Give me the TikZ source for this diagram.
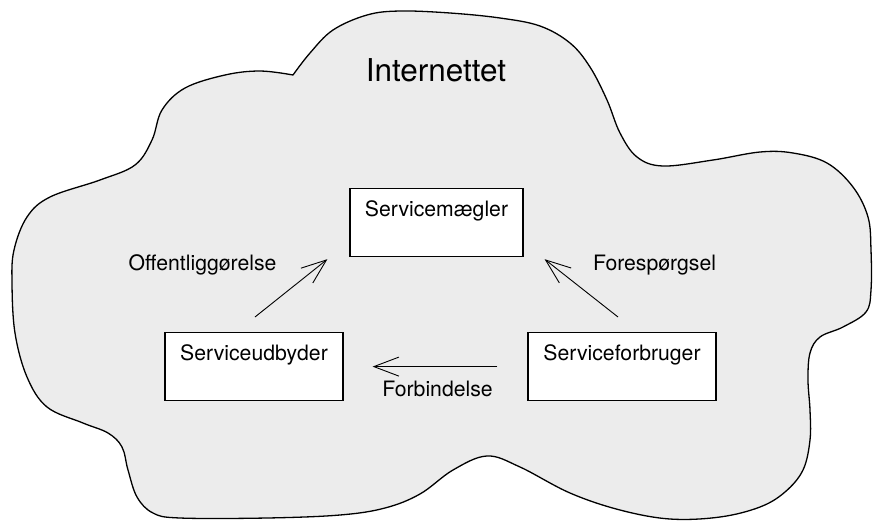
\documentclass[tikz,border=0pt]{standalone}
\usepackage{fontspec}
\setmainfont{TeX Gyre Heros}
\usetikzlibrary{arrows.meta,calc}
\definecolor{cloudfill}{RGB}{236,236,236}
\tikzset{
  svcbox/.style={draw, line width=1.2pt, fill=white, rectangle, inner sep=0pt,
    anchor=north, text height=28pt, text depth=40pt,
    font=\fontsize{21.2}{25}\selectfont},
  lbl/.style={anchor=base, inner sep=0pt, font=\fontsize{21.2}{25}\selectfont},
  flow/.style={line width=0.9pt, -{Straight Barb[length=25pt, width=19pt, line width=0.9pt]}}
}
\begin{document}
\begin{tikzpicture}[x=1pt, y=-1pt]
\useasboundingbox (0,0) rectangle (873,520);

% the cloud
\draw[line width=1.3pt, fill=cloudfill, line join=round]
  plot[smooth, tension=0.6] coordinates {
    (293,75) (310,53) (333,30) (367,15) (400,11) (450,13) (500,18) (540,26)
    (570,43) (590,67) (607,100) (620,133) (637,157) (663,166) (713,160)
    (760,152) (793,153) (827,163) (853,187) (868,217) (871,250) (871,290)
    (866,312) (843,327) (820,337) (810,353) (808,380) (810,410) (810,440)
    (803,470) (785,492) (760,507) (720,517) (670,519) (620,510) (570,493)
    (520,467) (487,456) (453,470) (420,494) (385,508) (340,515) (267,518)
    (180,518) (153,513) (137,497) (128,470) (122,447) (108,433) (83,423)
    (47,407) (27,377) (15,333) (12,283) (14,250) (27,217) (50,197) (100,180)
    (135,165) (152,140) (162,110) (185,88) (225,75) (260,71) (293,75)}
  -- cycle;

\node[anchor=base, inner sep=0pt, font=\fontsize{31.5}{36}\selectfont] (net) at (436,81) {Internettet};

% the three roles
\node[svcbox, minimum width=173pt] (maegler) at (436.5,188) {Servicemægler};
\node[svcbox, minimum width=178pt] (udbyder) at (254,332) {Serviceudbyder};
\node[svcbox, minimum width=188pt] (forbruger) at (622,332) {Serviceforbruger};

% arrow end points
\coordinate (offA) at ($(udbyder.north)+(1,-15)$);
\coordinate (offB) at ($(maegler.south west)+(-22,2)$);
\coordinate (forA) at ($(forbruger.north)+(-4,-15)$);
\coordinate (forB) at ($(maegler.south east)+(21,2)$);
\coordinate (binA) at ($(forbruger.west)+(-30,0)$);
\coordinate (binB) at ($(udbyder.east)+(29,0)$);

\draw[flow] (offA) -- (offB);
\draw[flow] (forA) -- (forB);
\draw[flow] (binA) -- (binB);

\node[lbl] (offl) at (202.5,270) {Offentliggørelse};
\node[lbl] (forl) at (654.5,270) {Forespørgsel};
\node[lbl] (binl) at (437.5,396.5) {Forbindelse};
\end{tikzpicture}
\end{document}
